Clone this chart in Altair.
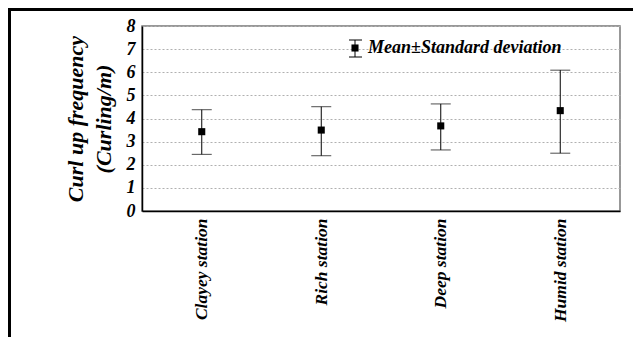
import altair as alt
import pandas as pd

stations = ["Clayey station", "Rich station", "Deep station", "Humid station"]
means = [3.43, 3.50, 3.68, 4.34]
lower = [2.45, 2.39, 2.64, 2.50]
upper = [4.38, 4.51, 4.63, 6.09]
y_ticks = [0, 1, 2, 3, 4, 5, 6, 7, 8]
legend_label = "Mean±Standard deviation"
y_title = ["Curl up frequency", "(Curling/m)"]

df = pd.DataFrame({"station": stations, "mean": means, "lo": lower, "hi": upper})

FONT = "Times New Roman"
W, H = 478, 185
PL, PT, PR, PB = 134, 18, 13, 126

x_axis = alt.Axis(title=None, labelAngle=-90, labelAlign="right", labelBaseline="middle",
                  labelPadding=7, ticks=False, grid=False)
x_scale = alt.Scale(type="point", padding=0.5)
y_scale = alt.Scale(domain=[0, 8], nice=False, zero=True)
y_axis = alt.Axis(values=y_ticks, tickCount=20, format="d", labelOverlap=False, title=y_title,
                  titlePadding=11, titleLineHeight=28, labelPadding=7, ticks=False,
                  grid=True, gridColor="#b0b0b0", gridDash=[2, 2], gridWidth=1)


def X():
    return alt.X("station:N", sort=stations, scale=x_scale, axis=x_axis)


def Y(field):
    return alt.Y(field, type="quantitative", scale=y_scale, axis=y_axis)


base = alt.Chart(df)
bars = base.mark_rule(color="black", strokeWidth=1).encode(x=X(), y=Y("lo"), y2="hi:Q")
cap_lo = base.mark_tick(color="black", orient="horizontal", size=20, thickness=1).encode(
    x=X(), y=Y("lo"))
cap_hi = base.mark_tick(color="black", orient="horizontal", size=20, thickness=1).encode(
    x=X(), y=Y("hi"))
pts = base.mark_square(color="black", size=50, opacity=1).encode(x=X(), y=Y("mean"))

leg = pd.DataFrame({"label": [legend_label]})
lb = alt.Chart(leg)
leg_rule = lb.mark_rule(color="black", strokeWidth=1).encode(
    x=alt.value(213), y=alt.value(14), y2=alt.value(31))
leg_cap1 = lb.mark_rule(color="black", strokeWidth=1).encode(
    x=alt.value(207), x2=alt.value(220), y=alt.value(14))
leg_cap2 = lb.mark_rule(color="black", strokeWidth=1).encode(
    x=alt.value(207), x2=alt.value(220), y=alt.value(31))
leg_sq = lb.mark_square(color="black", size=50, opacity=1).encode(
    x=alt.value(213), y=alt.value(22))
leg_txt = lb.mark_text(font=FONT, fontSize=18, fontStyle="italic", fontWeight="bold",
                       align="left", baseline="middle", color="black").encode(
    x=alt.value(226), y=alt.value(22), text="label:N")

frame_top = lb.mark_rule(color="black", strokeWidth=3, clip=False).encode(
    x=alt.value(-PL), x2=alt.value(W + PR), y=alt.value(-PT + 1.5))
frame_left = lb.mark_rule(color="black", strokeWidth=3, clip=False).encode(
    x=alt.value(-PL + 1.5), y=alt.value(-PT), y2=alt.value(H + PB))

chart = alt.layer(bars, cap_lo, cap_hi, pts, leg_rule, leg_cap1, leg_cap2, leg_sq, leg_txt,
                  frame_top, frame_left).properties(
    width=W, height=H, autosize=alt.AutoSizeParams(type="none"),
    padding={"left": PL, "top": PT, "right": PR, "bottom": PB},
    background="white"
).configure(font=FONT).configure_axis(
    labelFont=FONT, titleFont=FONT, labelFontStyle="italic", labelFontWeight="bold",
    titleFontStyle="italic", titleFontWeight="bold", labelColor="black", titleColor="black",
    domainColor="black", domainWidth=1.5
).configure_axisX(labelFontSize=17.5).configure_axisY(labelFontSize=18, titleFontSize=22
).configure_view(stroke="#777777", strokeWidth=1.5)

chart.save("out.html", embed_options={"renderer": "svg", "actions": False})
